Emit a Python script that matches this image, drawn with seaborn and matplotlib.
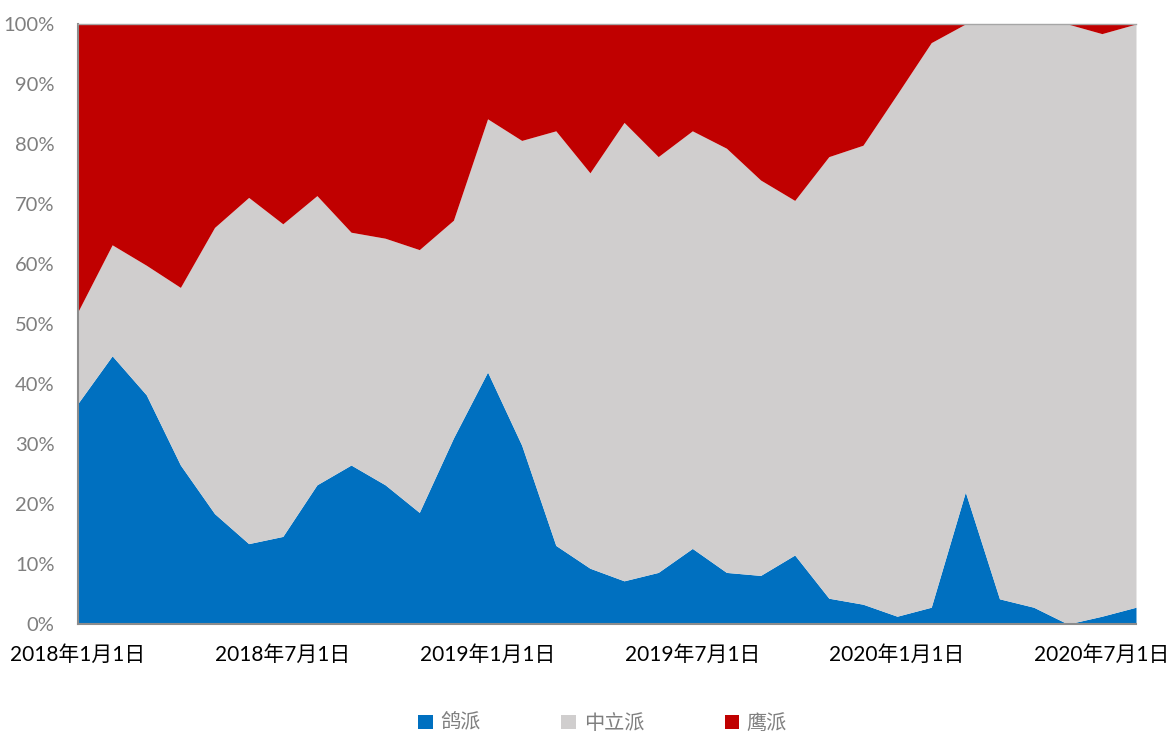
import numpy as np
import pandas as pd
import matplotlib
matplotlib.use("Agg")
import matplotlib.pyplot as plt
from matplotlib.patches import Patch
from matplotlib.ticker import PercentFormatter
import seaborn as sns

# Monthly share of stances (percent), Jan 2018 - Aug 2020
months = pd.date_range("2018-01-01", "2020-08-01", freq="MS")
dove = [36.8, 44.7, 38.2, 26.5, 18.4, 13.4, 14.6, 23.2, 26.5, 23.2, 18.6, 31.0,
        42.0, 29.8, 13.1, 9.3, 7.2, 8.6, 12.6, 8.6, 8.1, 11.5, 4.3, 3.3,
        1.3, 2.8, 22.0, 4.2, 2.8, 0.0, 1.3, 2.8]
dove_plus_neutral = [52.1, 63.2, 59.8, 56.1, 66.1, 71.1, 66.7, 71.4, 65.3, 64.3, 62.4, 67.3,
                     84.2, 80.6, 82.2, 75.2, 83.6, 77.9, 82.2, 79.3, 74.0, 70.6, 77.9, 79.8,
                     88.3, 96.9, 100.0, 100.0, 100.0, 100.0, 98.4, 100.0]
neutral = [round(t - d, 1) for t, d in zip(dove_plus_neutral, dove)]
hawk = [round(100.0 - t, 1) for t in dove_plus_neutral]

series_names = ["鸽派", "中立派", "鹰派"]
series_colors = ["#0070C0", "#D0CECE", "#C00000"]
tick_labels = ["2018年1月1日", "2018年7月1日", "2019年1月1日",
               "2019年7月1日", "2020年1月1日", "2020年7月1日"]
tick_months = [0, 6, 12, 18, 24, 30]

sns.set_theme(style="white")
plt.rcParams["font.family"] = ["Lato", "Noto Sans CJK SC", "DejaVu Sans"]

fig = plt.figure(figsize=(11.68, 7.35), dpi=100)
ax = fig.add_axes([0.0668, 0.151, 0.9058, 0.8163])

x = np.arange(len(months))
ax.stackplot(x, dove, neutral, hawk, colors=series_colors, linewidth=0)

ax.set_xlim(0, len(months) - 1)
ax.set_ylim(0, 100)
ax.set_yticks(np.arange(0, 101, 10))
ax.yaxis.set_major_formatter(PercentFormatter(decimals=0))
ax.set_xticks(tick_months)
ax.set_xticklabels(tick_labels)

ax.tick_params(axis="y", colors="#808080", labelsize=14.5, length=0, pad=17)
ax.tick_params(axis="x", colors="black", labelsize=15, length=0, pad=15)
for lbl in ax.get_yticklabels():
    lbl.set_color("#7F7F7F")

ax.spines["right"].set_visible(False)
ax.spines["left"].set_color("#8C8C8C")
ax.spines["left"].set_linewidth(1.5)
ax.spines["bottom"].set_color("#8C8C8C")
ax.spines["bottom"].set_linewidth(1.5)
ax.spines["top"].set_color("#A6A6A6")
ax.spines["top"].set_linewidth(1.0)

handles = [Patch(facecolor=c, edgecolor="none", label=n)
           for n, c in zip(series_names, series_colors)]
leg = fig.legend(handles=handles, loc="center", bbox_to_anchor=(0.516, 0.016),
                 ncol=3, frameon=False, fontsize=14.5, handlelength=0.7,
                 handleheight=0.7, handletextpad=0.4, columnspacing=4.0)
for t in leg.get_texts():
    t.set_color("#7F7F7F")
    t.set_fontfamily(["Noto Sans CJK SC"])

fig.savefig("out.png", dpi=100)
